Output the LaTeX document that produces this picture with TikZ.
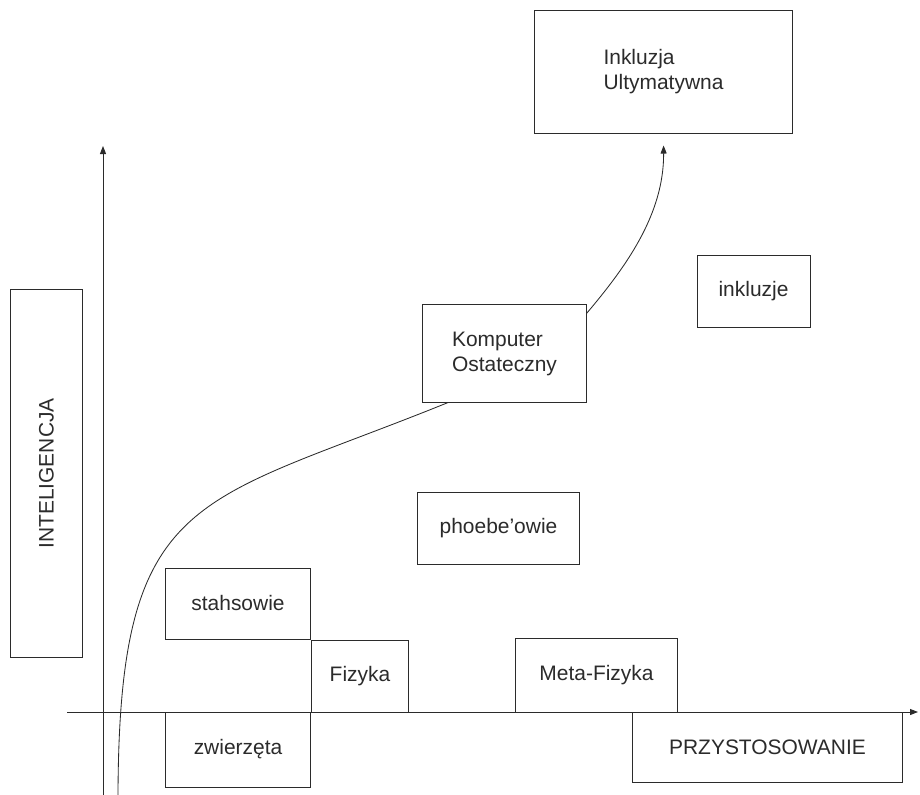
\documentclass[tikz,border=0pt]{standalone}
\usepackage{fontspec}
\setmainfont{Liberation Sans}
\usetikzlibrary{arrows.meta}
\definecolor{InkGray}{HTML}{2B2B2B}

\begin{document}
\begin{tikzpicture}[x=0.025cm,y=-0.025cm,
    box/.style={draw=InkGray,line width=0.7pt,fill=white,inner sep=0pt,
                align=left,text=InkGray,font=\fontsize{14.9}{17.8}\selectfont},
    axis/.style={-{Triangle[length=2mm,width=1.5mm]},line width=0.7pt,InkGray},
    arr/.style={-{Triangle[length=2mm,width=1.5mm]},line width=0.6pt,InkGray}]
    \useasboundingbox (0,0) rectangle (920,795);
    \coordinate (xfrom) at (67,712);
    \coordinate (xto) at (918,712);
    \coordinate (yfrom) at (103,795);
    \coordinate (yto) at (103,146);
    \coordinate (start) at (118,795);
    \draw[axis] (xfrom)--(xto);
    \draw[axis] (yfrom)--(yto);
    \node[box,minimum width=6.425cm,minimum height=3.05cm] (inkl) at (663.5,72) {Inkluzja\\Ultymatywna};
    \node[box,minimum width=2.825cm,minimum height=1.8cm] (inkluzje) at (753.5,291) {inkluzje};
    \node[box,minimum width=4.075cm,minimum height=2.425cm] (komp) at (504.5,353.5) {Komputer\\Ostateczny};
    \node[box,minimum width=4.025cm,minimum height=1.8cm] (phoebe) at (498.5,528) {phoebe'owie};
    \node[box,minimum width=3.6cm,minimum height=1.775cm] (stahs) at (238,603.5) {stahsowie};
    \node[box,minimum width=2.4cm,minimum height=1.8cm] (fizyka) at (360,676) {Fizyka};
    \node[box,minimum width=4.025cm,minimum height=1.85cm] (meta) at (596.5,675) {Meta-Fizyka};
    \node[box,minimum width=3.6cm,minimum height=1.875cm] (zwierz) at (238,749.5) {zwierzęta};
    \node[box,minimum width=6.725cm,minimum height=1.75cm] (przyst) at (767.5,747) {PRZYSTOSOWANIE};
    \node[box,rotate=90,minimum width=9.175cm,minimum height=1.775cm] (intel) at (46.5,473.5) {INTELIGENCJA};
    \draw[line width=0.6pt,InkGray] (start) .. controls (119,490) and (195,505) .. (komp.221.7);
    \draw[arr,shorten >=0.3cm] (komp.26) .. controls (625,268) and (664,215) .. (inkl.south);
  \end{tikzpicture}
\end{document}
